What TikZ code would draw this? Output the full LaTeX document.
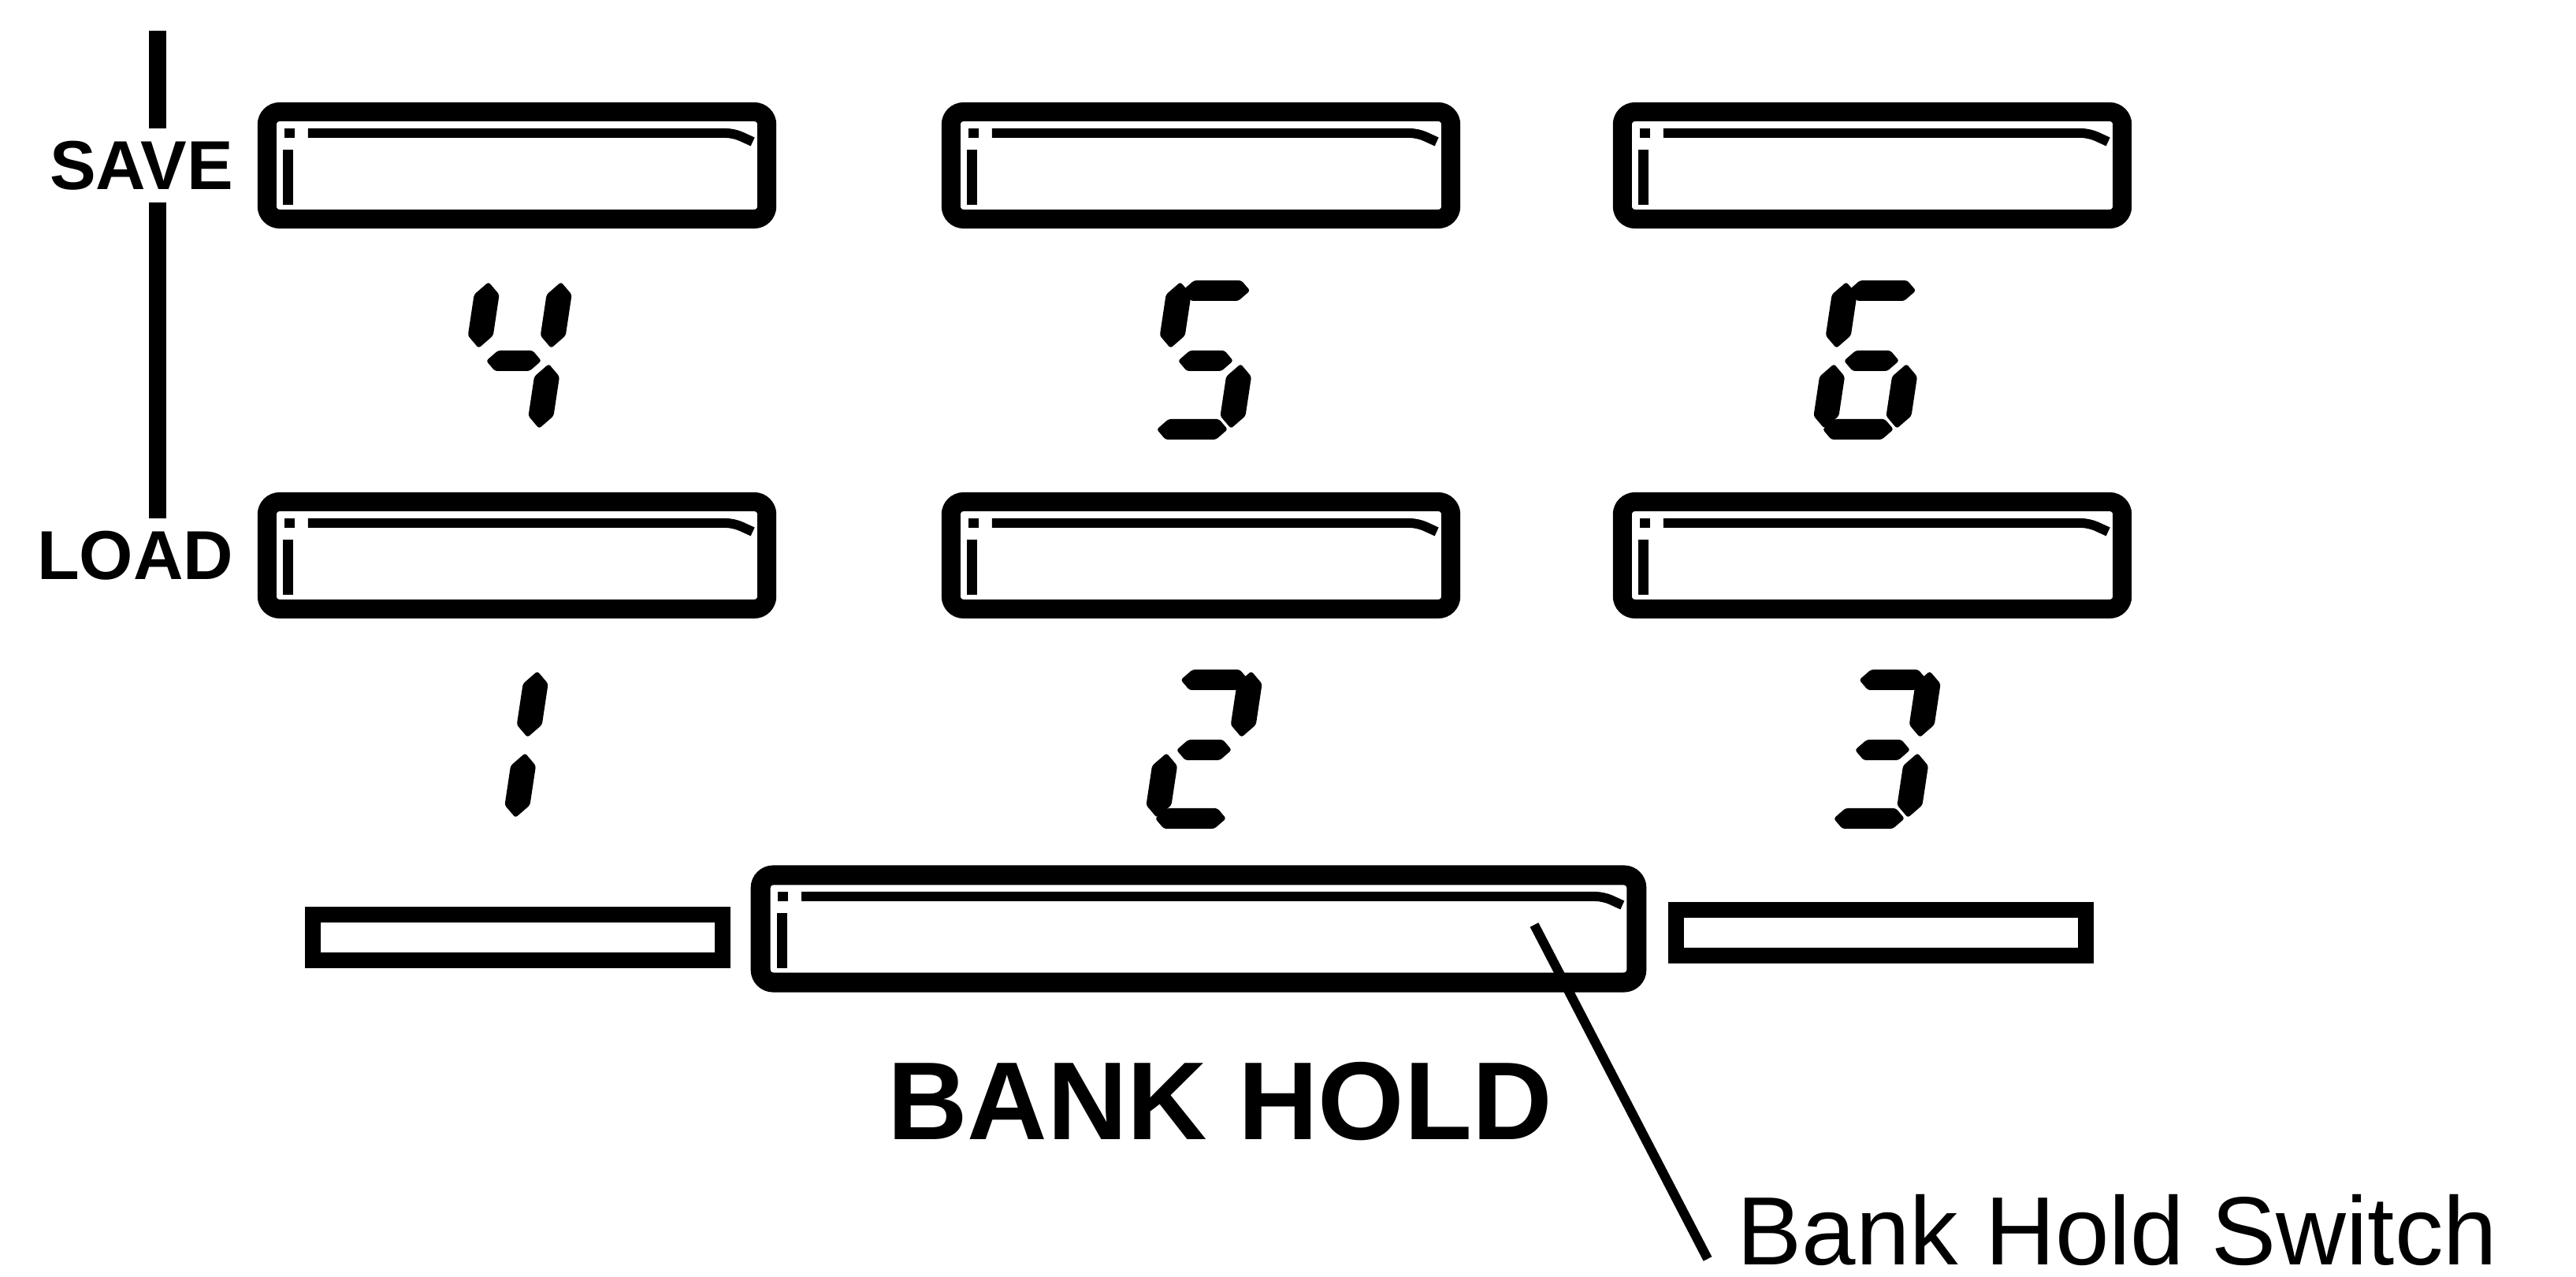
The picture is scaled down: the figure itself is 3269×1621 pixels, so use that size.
\documentclass[tikz,border=0pt]{standalone}
\usepackage{fontspec}
\setmainfont{Liberation Sans}
\usetikzlibrary{positioning}

% one segment of a slanted seven-segment digit
\newcommand{\hseg}[3]{\fill[rounded corners=0.03cm] (#1,#3) -- ++(13,13) -- ({#2-13},{#3+13}) -- (#2,#3) -- ({#2-13},{#3-13}) -- ({#1+13},{#3-13}) -- cycle;}
\newcommand{\vseg}[3]{\fill[rounded corners=0.03cm] (#1,#2) -- ++(16,16) -- ({#1+16},{#3-16}) -- (#1,#3) -- ({#1-16},{#3-16}) -- ({#1-16},{#2+16}) -- cycle;}
\newcommand{\sega}{\hseg{8}{94}{189}}
\newcommand{\segg}{\hseg{16}{86}{100}}
\newcommand{\segd}{\hseg{2}{92}{13}}
\newcommand{\segb}{\vseg{96}{116}{200}}
\newcommand{\segc}{\vseg{96}{14}{96}}
\newcommand{\segf}{\vseg{4}{116}{200}}
\newcommand{\sege}{\vseg{4}{14}{96}}
\newcommand{\segdigit}[3]{%
  \begin{scope}[shift={(#1,#2)}, xslant=0.15]
    \foreach \s in {#3} {\csname seg\s\endcsname}
  \end{scope}}
% highlight inside a key
\newcommand{\keybevel}{%
  \draw[line width=0.13cm, sharp corners] ([shift={(0.27cm,-0.48cm)}]path picture bounding box.north west) -- ([shift={(0.27cm,0.18cm)}]path picture bounding box.south west);
  \fill[sharp corners] ([shift={(0.22cm,-0.21cm)}]path picture bounding box.north west) rectangle ++(0.13cm,-0.12cm);
  \draw[line width=0.12cm, rounded corners=0.1cm] ([shift={(0.52cm,-0.27cm)}]path picture bounding box.north west) -- ([shift={(-0.42cm,-0.27cm)}]path picture bounding box.north east) -- ([shift={(-0.18cm,-0.38cm)}]path picture bounding box.north east);}

\begin{document}
\begin{tikzpicture}[x=0.01cm, y=0.01cm,
    keycap/.style={rectangle, draw, line width=0.24cm, rounded corners=0.16cm, minimum width=6.34cm, minimum height=1.36cm, inner sep=0pt, path picture={\keybevel}},
    sidebar/.style={rectangle, draw, line width=0.2cm, minimum width=5.19cm, minimum height=0.58cm, inner sep=0pt},
    lbl/.style={font=\bfseries\fontsize{25}{25}\selectfont, inner xsep=0pt, inner ysep=0.15cm}]
  \useasboundingbox (0,0) rectangle (3269,1621);
  %Nodes:
  \node[keycap] (k4) at (656,1411) {};
  \node[keycap] (k5) at (1524,1411) {};
  \node[keycap] (k6) at (2376,1411) {};
  \node[keycap] (k1) at (656,916) {};
  \node[keycap] (k2) at (1524,916) {};
  \node[keycap] (k3) at (2376,916) {};
  \node[keycap, line width=0.25cm, minimum width=11.11cm, minimum height=1.36cm] (bank) at (1521,442) {};
  \node[sidebar] (lbar) at (657,431) {};
  \node[sidebar] (rbar) at (2387,437) {};
  \node[lbl, left=0.3cm of k4] (save) {SAVE};
  \node[lbl, left=0.3cm of k1] (load) {LOAD};
  \node[font=\bfseries\fontsize{40}{40}\selectfont, inner sep=0pt, anchor=base] (title) at (1548,174) {BANK HOLD};
  \node[font=\fontsize{35}{35}\selectfont, inner sep=0pt, anchor=base west] (note) at (2204,15) {Bank Hold Switch};
  %Digits:
  \segdigit{586}{1063}{f,g,b,c}
  \segdigit{1464}{1063}{a,f,g,c,d}
  \segdigit{2309}{1063}{a,f,g,e,c,d}
  \segdigit{556}{569}{b,c}
  \segdigit{1462}{569}{a,b,g,e,d}
  \segdigit{2323}{569}{a,b,g,c,d}
  %Edges:
  \coordinate (rail) at (200,1582);
  \draw[line width=0.21cm] (rail) -- (rail |- save.north);
  \draw[line width=0.21cm] (rail |- save.south) -- (rail |- load.north);
  \coordinate (tip) at (1947,447);
  \draw[line width=0.12cm] (tip) -- ([shift={(-37,8)}]note.base west);
\end{tikzpicture}
\end{document}
